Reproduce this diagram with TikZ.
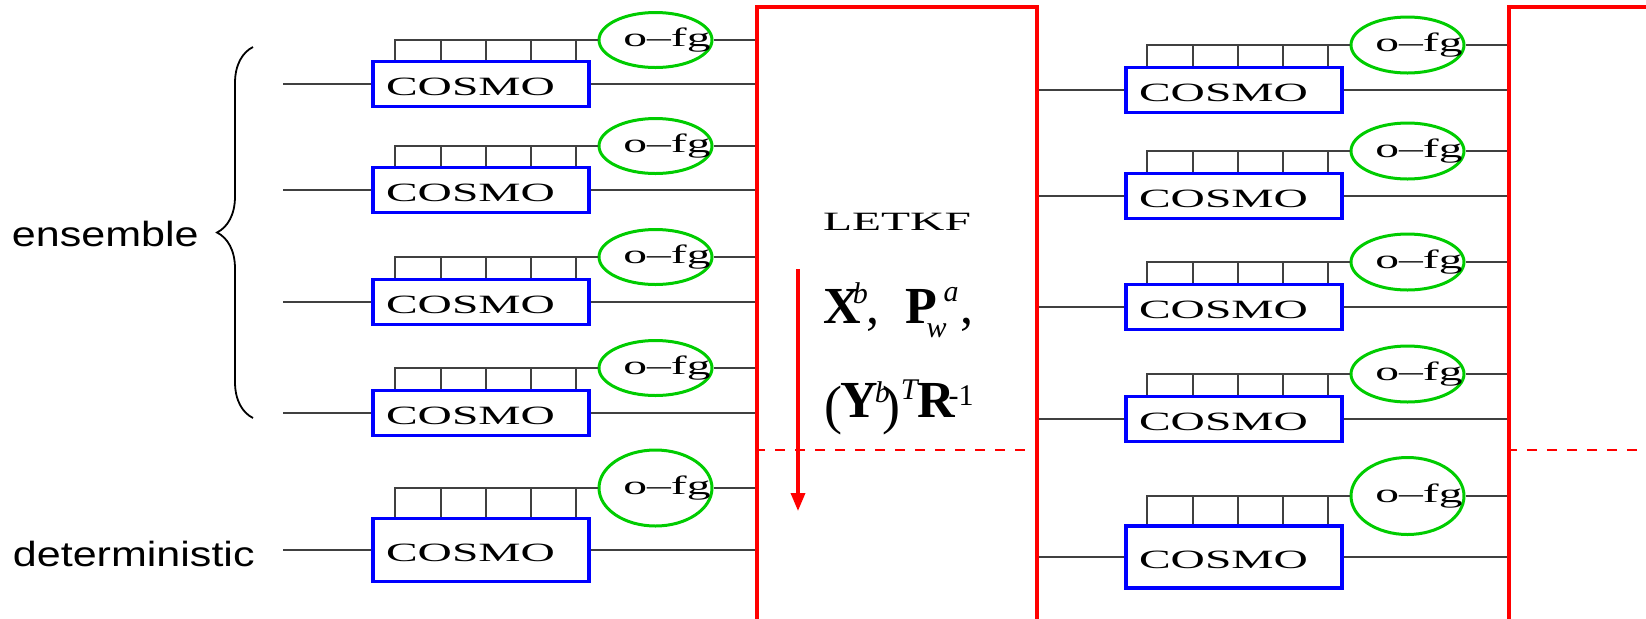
\documentclass[tikz,border=0pt]{standalone}
\usepackage{graphicx}
\usepackage{fontspec}
\setmainfont{Liberation Serif}
\newfontfamily\arialfont{Liberation Sans}
\usepackage{tikz}
\usetikzlibrary{shapes.geometric, arrows.meta, decorations.pathreplacing}

\newcommand{\wide}[1]{\scalebox{1.8}[1]{#1}}
\newcommand{\upidx}[2]{\raisebox{#1}{\fontsize{15}{15}\selectfont #2}}
\newcommand{\bigpar}[1]{\raisebox{-3pt}{\fontsize{27}{30}\selectfont #1}}

\begin{document}
\begin{tikzpicture}[x=0.5pt, y=-0.5pt,
    wire/.style={draw=black!75, line width=1pt},
    cosmo/.style={draw=blue, line width=1.7pt, fill=white, minimum width=108pt,
      text width=95pt, inner xsep=6.5pt, inner ysep=0pt, align=left, text height=12pt,
      font=\fontsize{13.2}{15}\selectfont},
    ofg/.style={ellipse, draw=green!80!black, line width=1.5pt, minimum width=56.5pt, inner sep=0pt},
    ofgtext/.style={anchor=base, inner sep=0pt, font=\fontsize{13.2}{15}\selectfont},
    letkfbox/.style={draw=red, line width=2pt, minimum height=320pt, inner sep=0pt},
    reddash/.style={draw=red, line width=1.3pt, dash pattern=on 5pt off 5pt},
    redarrow/.style={draw=red, line width=1.7pt, -{Triangle[length=9pt, width=7pt]}},
    mathtxt/.style={anchor=base west, inner sep=0pt, font=\fontsize{26}{30}\selectfont},
    sidetext/.style={anchor=base east, inner sep=0pt, font=\arialfont\fontsize{17.5}{20}\selectfont},
    brace/.style={draw=black, line width=0.9pt, decorate, decoration={brace, amplitude=18pt}}]

  \useasboundingbox (0,0) rectangle (1646,618);

  % the two LETKF boxes
  \node[letkfbox, minimum width=140pt] (lk1) at (897,327) {};
  \node[letkfbox, minimum width=150pt] (lk2) at (1659,327) {};
  \node[font=\fontsize{13.2}{15}\selectfont] (lkt) at (897,222) {\wide{LETKF}};

  % border between ensemble and deterministic run
  \coordinate (cut) at (0,450);
  \draw[reddash] (lk1.west |- cut) -- (lk1.east |- cut);
  \draw[reddash] (lk2.west |- cut) -- (lk2.east |- cut);

  % what LETKF hands on
  \node[mathtxt] (xp) at (823,323) {\textbf{X}\kern-4pt\upidx{10pt}{\itshape b}\kern-0.5pt,\hspace{13pt}%
    \textbf{P}\kern-5.5pt\upidx{-7pt}{\itshape w}\kern-1.5pt\upidx{11pt}{\itshape a}\kern1pt,};
  \node[mathtxt] (yr) at (824,417) {\bigpar{(}\kern-1pt\textbf{Y}\kern-1.5pt\upidx{7.3pt}{\itshape b}\kern-3.5pt\bigpar{)}%
    \upidx{9pt}{\itshape T}\textbf{R}\kern-3.5pt\upidx{6pt}{-1}};
  \coordinate (atop) at (798,269);
  \coordinate (abot) at (798,511);
  \draw[redarrow] (atop) -- (abot);

  % first cycle
  \foreach \r/\ly/\cy/\bh/\eh in {1/84/40/22.5pt/27.5pt, 2/190/146/22.5pt/27.5pt,
      3/302/257/22.5pt/27.5pt, 4/413/368/22.5pt/27.5pt, 5/550/488/31.5pt/38pt}{
    \node[cosmo, minimum height=\bh] (a\r) at (481,\ly) {\wide{COSMO}};
    \node[ofg, minimum height=\eh] (fa\r) at (655.5,\cy) {};
    \node[ofgtext] (ta\r) at (667,\cy+6) {\wide{o--fg}};
    \coordinate (in\r) at (283,\ly);
    \draw[wire] (in\r) -- (a\r.west);
    \draw[wire] (a\r.east) -- (a\r.east -| lk1.west);
    \draw[wire] (fa\r.east) -- (fa\r.east -| lk1.west);
    \foreach \k in {0,...,4}
      \draw[wire] ([xshift=12pt+\k*22.6pt]a\r.north west) |- (fa\r.west);
  }

  % second cycle
  \foreach \r/\ly/\cy/\bh/\eh in {1/90/45/22.5pt/28pt, 2/196/151/22.5pt/28pt,
      3/307/262/22.5pt/28pt, 4/419/374/22.5pt/28pt, 5/557/496/31pt/38.5pt}{
    \node[cosmo, minimum height=\bh] (b\r) at (1234,\ly) {\wide{COSMO}};
    \node[ofg, minimum height=\eh] (fb\r) at (1407.5,\cy) {};
    \node[ofgtext] (tb\r) at (1419,\cy+6) {\wide{o--fg}};
    \draw[wire] (b\r.west -| lk1.east) -- (b\r.west);
    \draw[wire] (b\r.east) -- (b\r.east -| lk2.west);
    \draw[wire] (fb\r.east) -- (fb\r.east -| lk2.west);
    \foreach \k in {0,...,4}
      \draw[wire] ([xshift=11.5pt+\k*22.6pt]b\r.north west) |- (fb\r.west);
  }

  % labels on the left
  \coordinate (bb) at (253,418);
  \coordinate (bt) at (253,47);
  \draw[brace] (bb) -- (bt);
  \node[sidetext] (ens) at (199,246) {\scalebox{1.23}[1]{ensemble}};
  \node[sidetext] (det) at (255,566) {\scalebox{1.23}[1]{deterministic}};

\end{tikzpicture}
\end{document}
